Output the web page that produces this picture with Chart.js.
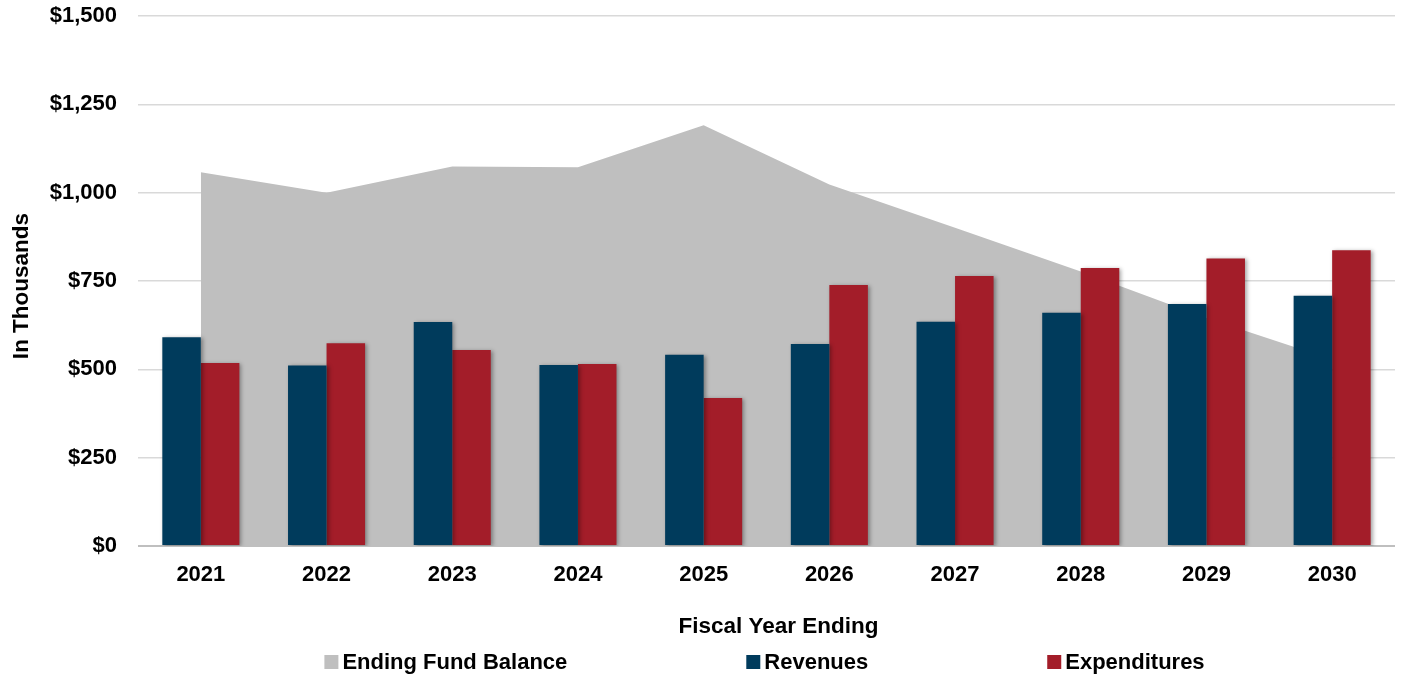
<!DOCTYPE html>
<html>
<head>
<meta charset="utf-8">
<script src="https://cdn.jsdelivr.net/npm/chart.js@4/dist/chart.umd.min.js"></script>
<style>
  html, body { margin: 0; padding: 0; background: #fff; }
  #wrap { width: 1405px; height: 676px; }
</style>
</head>
<body>
<div id="wrap"><canvas id="chart"></canvas></div>
<script>
const years = ['2021', '2022', '2023', '2024', '2025', '2026', '2027', '2028', '2029', '2030'];
const fundBalance = [1058, 1000, 1074, 1072, 1191, 1023, 901, 777, 645, 528];
const revenues = [591, 511, 634, 512, 541, 572, 635, 660, 685, 708];
const expenditures = [518, 574, 555, 515, 419, 739, 764, 787, 814, 837];

const FONT = 'Liberation Sans, Arial, Helvetica, sans-serif';
const xTitle = 'Fiscal Year Ending';
const yTitle = 'In Thousands';

// soft drop shadow like the office chart
const shadowPlugin = {
  id: 'shadow',
  beforeDatasetDraw(chart) {
    const ctx = chart.ctx;
    ctx.save();
    ctx.shadowColor = 'rgba(0,0,0,0.35)';
    ctx.shadowBlur = 4;
    ctx.shadowOffsetX = 2;
    ctx.shadowOffsetY = 1;
  },
  afterDatasetDraw(chart) {
    chart.ctx.restore();
  }
};

// axis titles + legend, placed where the original puts them
const extras = {
  id: 'extras',
  afterDraw(chart) {
    const ctx = chart.ctx;
    const area = chart.chartArea;
    ctx.save();
    ctx.fillStyle = '#000';
    ctx.textBaseline = 'middle';
    ctx.textAlign = 'center';
    ctx.font = 'bold 22.5px ' + FONT;
    ctx.fillText(xTitle, (area.left + area.right) / 2 + 12, 627);

    ctx.save();
    ctx.translate(22, (area.top + area.bottom) / 2 + 5);
    ctx.rotate(-Math.PI / 2);
    ctx.fillText(yTitle, 0, 0);
    ctx.restore();

    const items = chart.data.datasets.map(d => ({ text: d.label, color: d.legendColor }));
    const box = 14, gap = 4, pad = 179, y = 662;
    ctx.textAlign = 'left';
    ctx.font = 'bold 22px ' + FONT;
    const widths = items.map(it => box + gap + ctx.measureText(it.text).width);
    const total = widths.reduce((a, b) => a + b, 0) + pad * (items.length - 1);
    let x = (area.left + area.right) / 2 - total / 2 - 2;
    items.forEach((it, i) => {
      ctx.fillStyle = it.color;
      ctx.fillRect(x, y - box / 2, box, box);
      ctx.fillStyle = '#000';
      ctx.fillText(it.text, x + box + gap, y + 1);
      x += widths[i] + pad;
    });
    ctx.restore();
  }
};

new Chart(document.getElementById('chart'), {
  type: 'bar',
  data: {
    labels: years,
    datasets: [
      {
        type: 'line',
        label: 'Ending Fund Balance',
        data: fundBalance,
        backgroundColor: '#BFBFBF',
        borderColor: '#BFBFBF',
        borderWidth: 0,
        pointRadius: 0,
        tension: 0,
        fill: 'origin',
        order: 2,
        legendColor: '#BFBFBF'
      },
      {
        label: 'Revenues',
        data: revenues,
        backgroundColor: '#003B5C',
        categoryPercentage: 0.613,
        barPercentage: 1,
        order: 1,
        legendColor: '#003B5C'
      },
      {
        label: 'Expenditures',
        data: expenditures,
        backgroundColor: '#A31D29',
        categoryPercentage: 0.613,
        barPercentage: 1,
        order: 1,
        legendColor: '#A31D29'
      }
    ]
  },
  options: {
    responsive: true,
    maintainAspectRatio: false,
    animation: false,
    layout: { padding: { top: 16, right: 10, bottom: 36, left: 0 } },
    plugins: {
      legend: { display: false },
      tooltip: { enabled: false }
    },
    scales: {
      x: {
        grid: { display: false, drawTicks: false },
        border: { display: false },
        ticks: {
          color: '#000',
          padding: 16,
          font: { family: FONT, size: 22, weight: 'bold' }
        },
        afterFit(scale) { scale.height = 94; }
      },
      y: {
        min: 0,
        max: 1500,
        grid: {
          color: ctx => ctx.tick && ctx.tick.value === 0 ? '#BFBFBF' : '#D9D9D9',
          lineWidth: ctx => ctx.tick && ctx.tick.value === 0 ? 2 : 1.5,
          drawTicks: false
        },
        border: { display: false },
        ticks: {
          stepSize: 250,
          color: '#000',
          padding: 21,
          font: { family: FONT, size: 22, weight: 'bold' },
          callback: v => '$' + v.toLocaleString('en-US')
        },
        afterFit(scale) {
          scale.width = 138;
          scale.paddingTop = 0;
          scale.paddingBottom = 0;
        }
      }
    }
  },
  plugins: [shadowPlugin, extras]
});
</script>
</body>
</html>
